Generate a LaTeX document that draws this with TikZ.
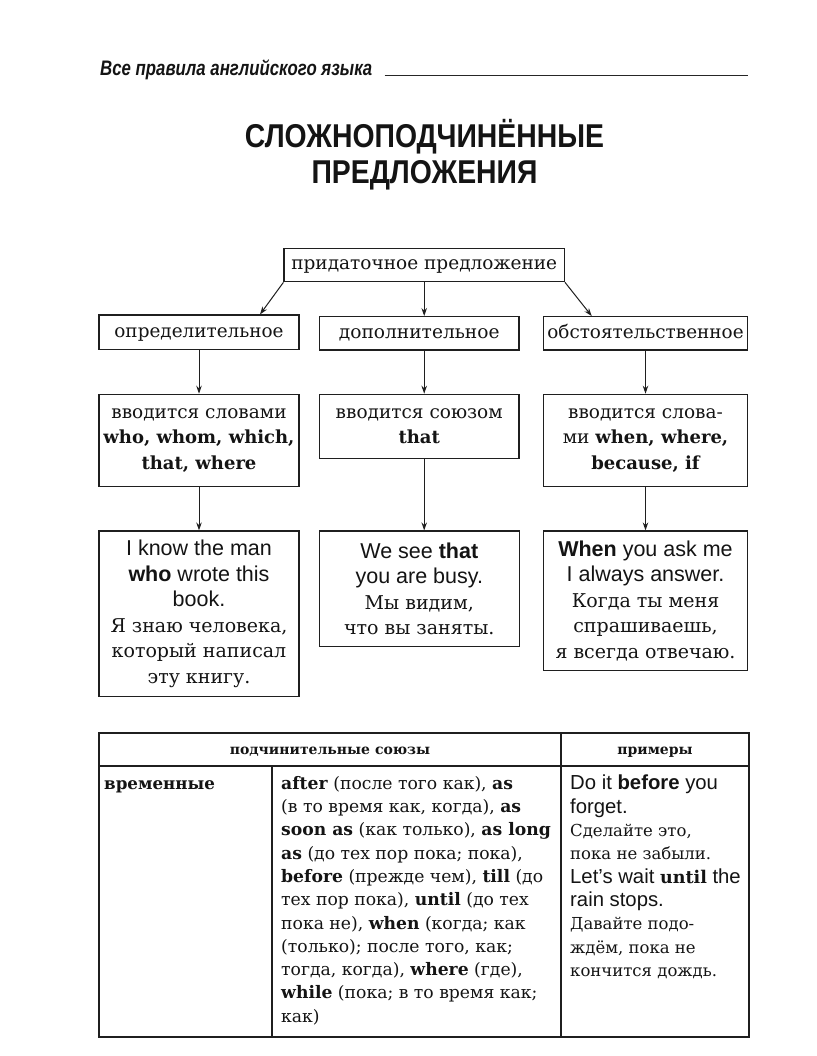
\documentclass[tikz,border=0pt]{standalone}
\usepackage{fontspec}
\setmainfont{DejaVu Serif}
\newfontfamily\sansf{Liberation Sans}
\newfontfamily\hdrf{Liberation Sans}[FakeStretch=0.8]
\newfontfamily\ttlf{Liberation Sans}[FakeStretch=0.86]
\usetikzlibrary{arrows.meta,calc}
\newcommand\fs[1]{\fontsize{#1}{25.5}\selectfont}
\newcommand\en[1]{{\sansf\fs{21.5}#1}}
\newcommand\ru[1]{{\fs{19}#1}}
\newcommand\tfs[1]{\fontsize{#1}{23.3}\selectfont}
\newcommand\ten[1]{{\sansf\tfs{20.3}#1}}
\begin{document}
\begin{tikzpicture}[x=1pt,y=-1pt,
  box/.style={draw=black!88,line width=1.2pt,inner sep=0pt,align=center,text=black!92,font=\fs{18}},
  onebox/.style={box,text height=13.5pt,text depth=4pt},
  arr/.style={line width=1pt,draw=black!88,-{Stealth[length=8pt,width=5.5pt]}},
  tline/.style={draw=black!88,line width=1.2pt},
  ttext/.style={text=black!92,inner sep=0pt}]
\useasboundingbox[fill=white] (0,0) rectangle (816,1056);

% header
\node[ttext,anchor=base west,font=\hdrf\bfseries\itshape\fontsize{21}{21}\selectfont] (hdr) at (100,76) {Все правила английского языка};
\coordinate (hl) at (748,75.5);
\draw[line width=1.4pt,black!85] (hdr.east |- hl) ++(12,0) -- (hl);

% title
\node[ttext,anchor=base,font=\ttlf\bfseries\fontsize{33}{36}\selectfont] (t1) at (424.5,148) {СЛОЖНОПОДЧИНЁННЫЕ};
\node[ttext,anchor=base,font=\ttlf\bfseries\fontsize{33}{36}\selectfont] (t2) at (424.5,184) {ПРЕДЛОЖЕНИЯ};

% boxes
\node[onebox,minimum width=280.3pt,minimum height=33.4pt,font=\fs{18.5}] (top) at (424.2,265) {придаточное предложение};

\node[onebox,minimum width=200pt,minimum height=34.3pt,font=\fs{18.4},text height=15pt] (l2a) at (199,332.2) {определительное};
\node[onebox,minimum width=199.7pt,minimum height=33.3pt,font=\fs{18.6},text height=14pt] (l2b) at (419.2,333.3) {дополнительное};
\node[onebox,minimum width=204.4pt,minimum height=33.3pt,font=\fs{18.4},text height=14pt] (l2c) at (645.5,333.3) {обстоятельственное};

\node[box,minimum width=200pt,minimum height=92.4pt] (l3a) at (199,440.5)
  {{\fs{18.5}вводится словами}\\{\fs{18}\bfseries who, whom, which,}\\{\fs{18}\bfseries that, where}};
\node[box,minimum width=199.7pt,minimum height=64pt] (l3b) at (419.2,426.3)
  {{\fs{18.5}вводится союзом}\\{\fs{18}\bfseries that}};
\node[box,minimum width=204.4pt,minimum height=92.4pt] (l3c) at (645.5,440.5)
  {{\fs{18.5}вводится слова-}\\{\fs{18.5}ми {\fs{18}\bfseries when, where,}}\\{\fs{18}\bfseries because, if}};

\node[box,minimum width=200pt,minimum height=165.7pt] (l4a) at (199,613.85)
  {\en{I know the man}\\\en{\textbf{who} wrote this}\\\en{book.}\\\ru{Я знаю человека,}\\\ru{который написал}\\\ru{эту книгу.}};
\node[box,minimum width=200pt,minimum height=115.7pt] (l4b) at (419.3,588.85)
  {\en{We see \textbf{that}}\\\en{you are busy.}\\\ru{Мы видим,}\\\ru{что вы заняты.}};
\node[box,minimum width=204.4pt,minimum height=139.7pt] (l4c) at (645.5,600.85)
  {\en{\textbf{When} you ask me}\\\en{I always answer.}\\\ru{Когда ты меня}\\\ru{спрашиваешь,}\\\ru{я всегда отвечаю.}};

% arrows
\draw[arr] (top.south west) -- ([xshift=61pt]l2a.north);
\draw[arr] (top.south) -- (l2b.north -| top.south);
\draw[arr] (top.south east) -- ([xshift=-53.8pt]l2c.north);
\draw[arr] (l2a.south) -- (l3a.north);
\draw[arr] (l2b.south -| top.south) -- (l3b.north -| top.south);
\draw[arr] (l2c.south) -- (l3c.north);
\draw[arr] (l3a.south) -- (l4a.north);
\draw[arr] (l3b.south -| top.south) -- (l4b.north -| top.south);
\draw[arr] (l3c.south) -- (l4c.north);

% table
\draw[tline] (99,733) rectangle (749,1037);
\draw[tline] (99,766) -- (749,766);
\draw[tline] (561,733) -- (561,1037);
\draw[tline] (272,766) -- (272,1037);

\node[ttext,anchor=base,font=\bfseries\fontsize{14}{18}\selectfont] (th1) at (330,754) {подчинительные союзы};
\node[ttext,anchor=base,font=\bfseries\fontsize{14}{18}\selectfont] (th2) at (655,754) {примеры};
\node[ttext,anchor=base west,font=\bfseries\fontsize{16.7}{20}\selectfont] (tc1) at (104,789) {временные};

\node[ttext,anchor=north west,align=left,font=\tfs{17.2}] (tc2) at (281,776)
  {\textbf{after} (после того как), \textbf{as}\\
   (в то время как, когда), \textbf{as}\\
   \textbf{soon as} (как только), \textbf{as long}\\
   \textbf{as} (до тех пор пока; пока),\\
   \textbf{before} (прежде чем), \textbf{till} (до\\
   тех пор пока), \textbf{until} (до тех\\
   пока не), \textbf{when} (когда; как\\
   (только); после того, как;\\
   тогда, когда), \textbf{where} (где),\\
   \textbf{while} (пока; в то время как;\\
   как)};

\node[ttext,anchor=north west,align=left,font=\tfs{16.5}] (tc3) at (570,775)
  {\ten{Do it \textbf{before} you}\\
   \ten{forget.}\\
   Сделайте это,\\
   пока не забыли.\\
   \ten{Let’s wait {\rmfamily\bfseries\fontsize{17.5}{23.3}\selectfont until} the}\\
   \ten{rain stops.}\\
   Давайте подо-\\
   ждём, пока не\\
   кончится дождь.};
\end{tikzpicture}
\end{document}
